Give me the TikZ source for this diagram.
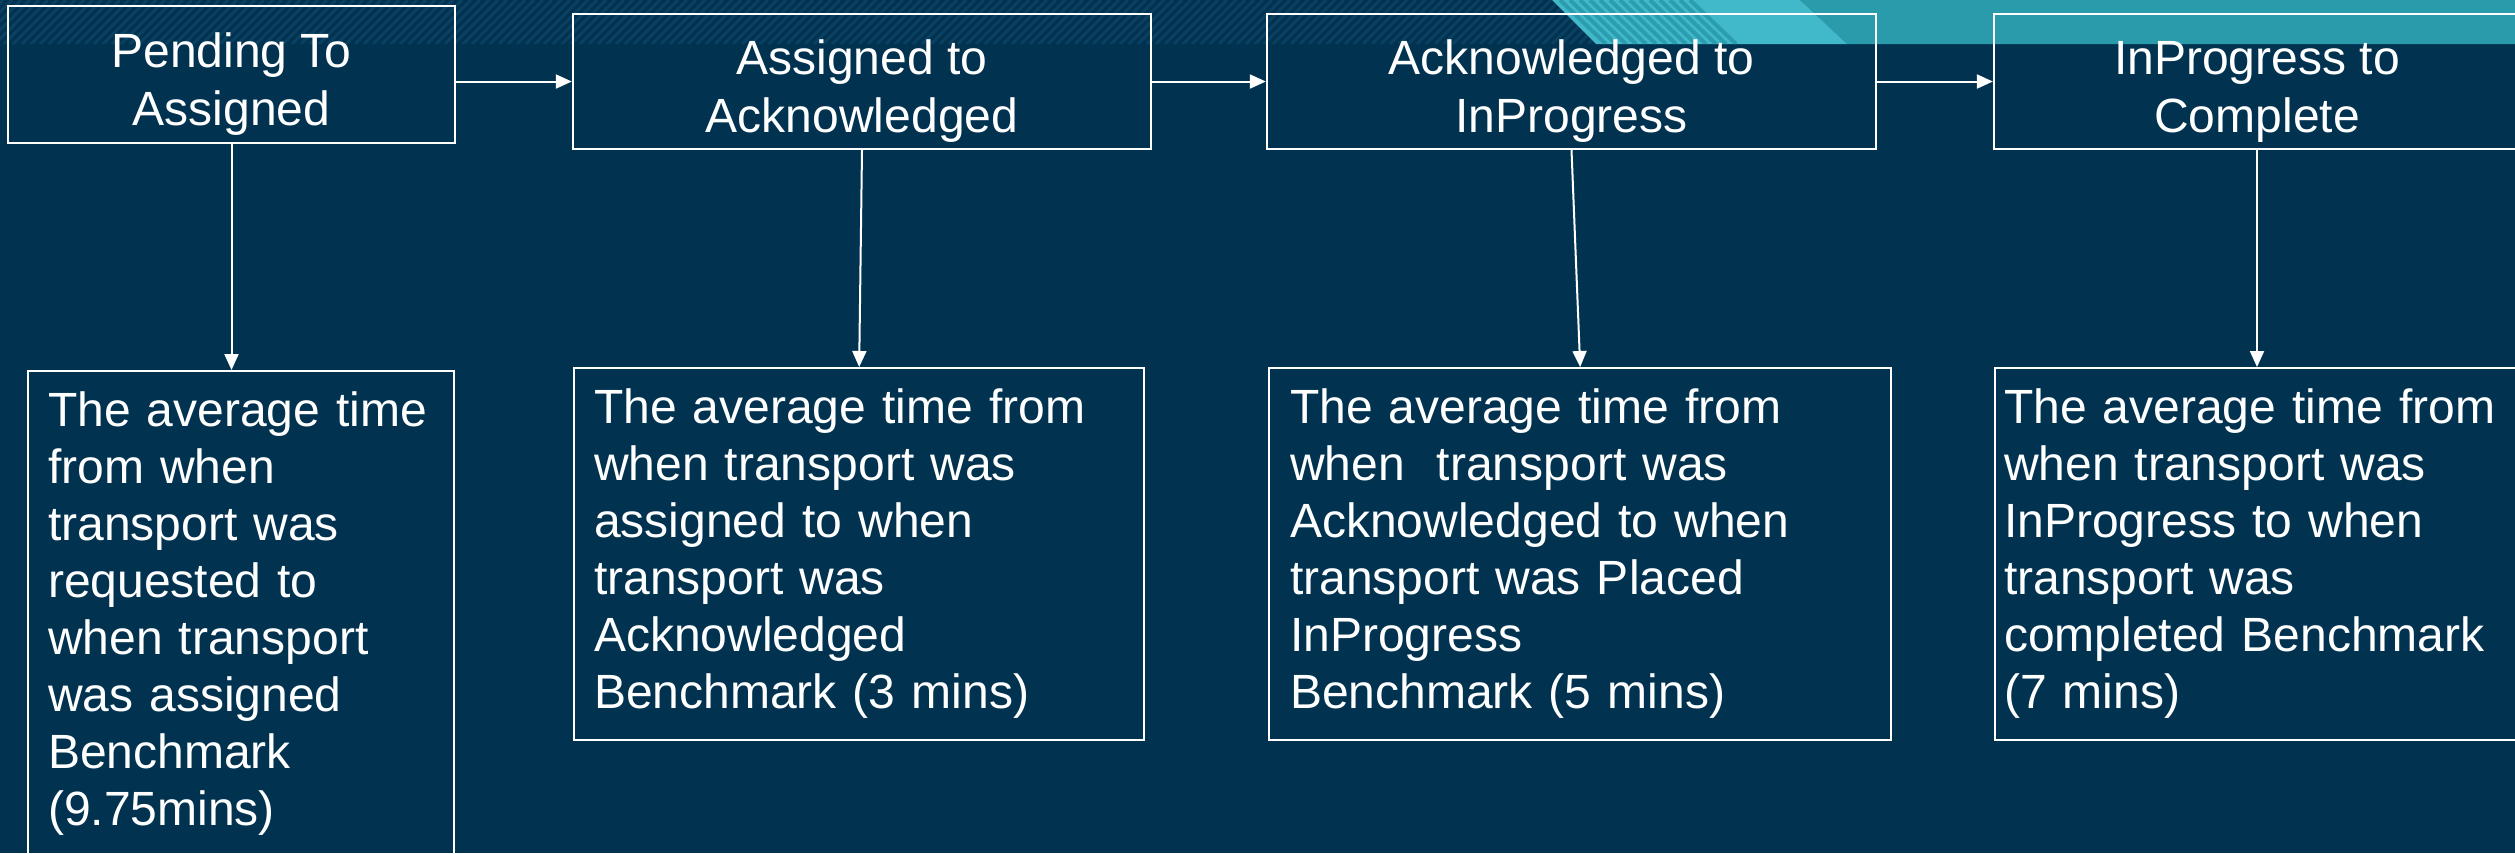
\documentclass[tikz,border=0pt]{standalone}
\usepackage{fontspec}
\setmainfont{Liberation Sans}
\usetikzlibrary{arrows.meta,positioning}
\definecolor{navy}{HTML}{013351}
\definecolor{navyhatch}{HTML}{0A4061}
\definecolor{tealdark}{HTML}{2A9BAB}
\definecolor{teallight}{HTML}{41B9CA}
\definecolor{tealstripe}{HTML}{2C9DAE}
\tikzset{
  stage/.style={draw=white, line width=0.02cm, text=white, align=center, inner sep=0pt,
    text height=1.02cm, text depth=0pt, font=\fontsize{13.66pt}{16.6pt}\selectfont},
  note/.style={draw=white, line width=0.02cm, text=white, align=left, anchor=north west,
    inner xsep=0.2cm, inner ysep=0.21cm, font=\fontsize{13.66pt}{16.2pt}\selectfont},
  flow/.style={white, line width=0.02cm, -{Triangle[length=0.16cm,width=0.14cm]}}
}

\begin{document}
\begin{tikzpicture}[x=0.01cm,y=-0.01cm]
    \clip (0,0) rectangle (2515,853);
    % Background
    \fill[navy] (0,0) rectangle (2515,853);
    \begin{scope}
      \clip (0,0) -- (1552,0) -- (1596,44) -- (0,44) -- cycle;
      \foreach \x in {-50,-41,...,1600}
        \draw[navyhatch, line width=0.03cm] (\x,44) -- ++(44,-44);
    \end{scope}
    \fill[tealdark] (1800,0) -- (2515,0) -- (2515,44) -- (1847,44) -- cycle;
    \fill[teallight] (1552,0) -- (1800,0) -- (1847,44) -- (1596,44) -- cycle;
    \begin{scope}
      \clip (1552,0) -- (1800,0) -- (1847,44) -- (1596,44) -- cycle;
      \foreach \x in {1560,1570,...,1690}
        \draw[tealstripe, line width=0.04cm] (\x,0) -- ++(46,44);
    \end{scope}

    % Stages
    \node[stage, minimum width=4.47cm, minimum height=1.36cm] (t1) at (231.5,74.5) {Pending To\\Assigned};
    \node[stage, minimum width=5.78cm, minimum height=1.35cm] (t2) at (862,81.5) {Assigned to\\Acknowledged};
    \node[stage, minimum width=6.09cm, minimum height=1.35cm] (t3) at (1571.5,81.5) {Acknowledged to\\InProgress};
    \node[stage, minimum width=5.26cm, minimum height=1.35cm] (t4) at (2257,81.5) {InProgress to\\Complete};

    % Descriptions
    \node[note, text width=3.86cm] (d1) at (27,370) {The average time\\from when\\transport was\\requested to\\when transport\\was assigned\\Benchmark\\(9.75mins)};
    \node[note, text width=5.30cm, minimum height=3.69cm] (d2) at (573,367) {The average time from\\when transport was\\assigned to when\\transport was\\Acknowledged\\Benchmark (3 mins)};
    \node[note, text width=5.80cm, minimum height=3.69cm, inner xsep=0.21cm] (d3) at (1268,367) {The average time from\\when~~transport was\\Acknowledged to when\\transport was Placed\\InProgress\\Benchmark (5 mins)};
    \node[note, text width=5.30cm, minimum height=3.69cm, inner xsep=0.09cm] (d4) at (1994,367) {The average time from\\when transport was\\InProgress to when\\transport was\\completed Benchmark\\(7 mins)};

    % Flow
    \draw[flow] (t1.east |- t2.west) -- (t2.west);
    \draw[flow] (t2.east) -- (t3.west);
    \draw[flow] (t3.east) -- (t4.west);
    \draw[flow] (t1.south) -- (t1.south |- d1.north);
    \draw[flow] (t2.south) -- (d2.north);
    \draw[flow] (t3.south) -- (d3.north);
    \draw[flow] (t4.south) -- (t4.south |- d4.north);
\end{tikzpicture}
\end{document}
